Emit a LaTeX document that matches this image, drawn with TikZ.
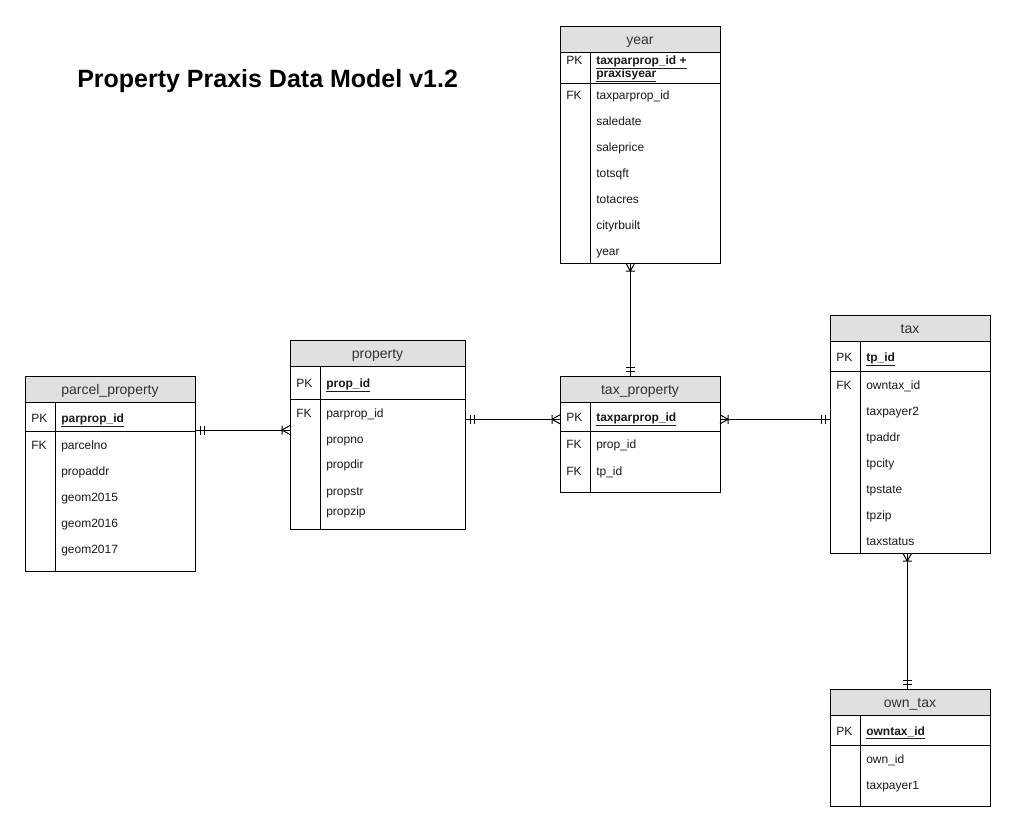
\documentclass[tikz,border=0pt]{standalone}
\usepackage{fontspec}
\setmainfont{Liberation Sans}
\usetikzlibrary{calc}
\definecolor{hdrgray}{HTML}{E0E0E0}
\definecolor{txt}{HTML}{1A1A1A}
\definecolor{htxt}{HTML}{333333}
\tikzset{
  ln/.style={line width=0.75pt, draw=black},
  tbl/.style={ln, fill=white, inner sep=0pt, outer sep=0pt},
  hdr/.style={ln, fill=hdrgray, inner sep=0pt, outer sep=0pt, text=htxt,
    text height=9pt, text depth=1.5pt,
    font=\fontsize{10.5pt}{12pt}\selectfont},
  fld/.style={anchor=base west, inner sep=0pt, text=txt, font=\fontsize{9pt}{11pt}\selectfont},
  pkf/.style={fld, font=\fontsize{9pt}{11pt}\selectfont\bfseries},
  ttl/.style={anchor=base west, inner sep=0pt, text=black, font=\fontsize{18.75pt}{22pt}\selectfont\bfseries},
  pics/mandone/.style={code={\draw[ln] (5,-4.5)--(5,4.5) (9,-4.5)--(9,4.5);}},
  pics/crowfoot/.style={code={\draw[ln] (0,-4.5)--(8,0)--(0,4.5) (8,-4.5)--(8,4.5);}}
}
% name, left, top, right, bottom, title, pk-separator
\newcommand\ertable[7]{%
  \node[tbl, anchor=north west, minimum width={(#4-#2)*0.75pt}, minimum height={(#5-#3)*0.75pt}] (#1) at (#2,#3) {};
  \node[hdr, anchor=north west, minimum width={(#4-#2)*0.75pt}, minimum height={26*0.75pt}] (#1-h) at (#2,#3) {#6};
  \draw[ln] (#2,#7) -- (#4,#7);
  \draw[ln] (#2+30,#3+26) -- (#2+30,#5);
}
\begin{document}
\begin{tikzpicture}[x=0.75pt, y=-0.75pt]
\useasboundingbox[fill=white] (0,0) rectangle (1016,833);

\node[ttl] (title) at (77,87) {Property Praxis Data Model v1.2};

% year
\ertable{year}{560}{26}{720}{263}{year}{83}
\node[fld] (year-k1) at (566,64) {PK};
\node[pkf] (year-p1) at (596,64) {\underline{taxparprop\_id +}};
\node[pkf] (year-p2) at (596,77) {\underline{praxisyear}};
\node[fld] (year-k2) at (566,99) {FK};
\node[fld] (year-f1) at (596,99) {taxparprop\_id};
\node[fld] (year-f2) at (596,125) {saledate};
\node[fld] (year-f3) at (596,151) {saleprice};
\node[fld] (year-f4) at (596,177) {totsqft};
\node[fld] (year-f5) at (596,203) {totacres};
\node[fld] (year-f6) at (596,229) {cityrbuilt};
\node[fld] (year-f7) at (596,255) {year};

% property
\ertable{property}{290}{340}{465}{529}{property}{399}
\node[fld] (prop-k1) at (296,387) {PK};
\node[pkf] (prop-p1) at (326,387) {\underline{prop\_id}};
\node[fld] (prop-k2) at (296,417) {FK};
\node[fld] (prop-f1) at (326,417) {parprop\_id};
\node[fld] (prop-f2) at (326,443) {propno};
\node[fld] (prop-f3) at (326,468) {propdir};
\node[fld] (prop-f4) at (326,495) {propstr};
\node[fld] (prop-f5) at (326,515) {propzip};

% parcel_property
\ertable{parcel}{25}{376}{195}{571}{parcel\_property}{431}
\node[fld] (parc-k1) at (31,422) {PK};
\node[pkf] (parc-p1) at (61,422) {\underline{parprop\_id}};
\node[fld] (parc-k2) at (31,449) {FK};
\node[fld] (parc-f1) at (61,449) {parcelno};
\node[fld] (parc-f2) at (61,475) {propaddr};
\node[fld] (parc-f3) at (61,501) {geom2015};
\node[fld] (parc-f4) at (61,527) {geom2016};
\node[fld] (parc-f5) at (61,553) {geom2017};

% tax_property
\ertable{taxprop}{560}{376}{720}{492}{tax\_property}{431}
\node[fld] (tp-k1) at (566,421) {PK};
\node[pkf] (tp-p1) at (596,421) {\underline{taxparprop\_id}};
\node[fld] (tp-k2) at (566,448) {FK};
\node[fld] (tp-f1) at (596,448) {prop\_id};
\node[fld] (tp-k3) at (566,475) {FK};
\node[fld] (tp-f2) at (596,475) {tp\_id};

% tax
\ertable{tax}{830}{315}{990}{553}{tax}{371}
\node[fld] (tax-k1) at (836,361) {PK};
\node[pkf] (tax-p1) at (866,361) {\underline{tp\_id}};
\node[fld] (tax-k2) at (836,389) {FK};
\node[fld] (tax-f1) at (866,389) {owntax\_id};
\node[fld] (tax-f2) at (866,415) {taxpayer2};
\node[fld] (tax-f3) at (866,441) {tpaddr};
\node[fld] (tax-f4) at (866,467) {tpcity};
\node[fld] (tax-f5) at (866,493) {tpstate};
\node[fld] (tax-f6) at (866,519) {tpzip};
\node[fld] (tax-f7) at (866,545) {taxstatus};

% own_tax
\ertable{owntax}{830}{689}{990}{806}{own\_tax}{745}
\node[fld] (ot-k1) at (836,735) {PK};
\node[pkf] (ot-p1) at (866,735) {\underline{owntax\_id}};
\node[fld] (ot-f1) at (866,763) {own\_id};
\node[fld] (ot-f2) at (866,789) {taxpayer1};

% connectors
\coordinate (c1s) at ($(parcel.north east)+(0,54)$);
\coordinate (c1e) at ($(property.north west)+(0,90)$);
\draw[ln] (c1s) -- (c1e);
\pic[rotate=0] at (c1s) {mandone};
\pic[rotate=180] at (c1e) {crowfoot};

\coordinate (c2s) at ($(property.north east)+(0,79.3)$);
\coordinate (c2e) at ($(taxprop.north west)+(0,43.3)$);
\draw[ln] (c2s) -- (c2e);
\pic[rotate=0] at (c2s) {mandone};
\pic[rotate=180] at (c2e) {crowfoot};

\coordinate (c3s) at ($(taxprop.north east)+(0,43.3)$);
\coordinate (c3e) at ($(tax.north west)+(0,104.3)$);
\draw[ln] (c3s) -- (c3e);
\pic[rotate=0] at (c3s) {crowfoot};
\pic[rotate=180] at (c3e) {mandone};

\coordinate (c4s) at ($(year.south west)+(70.3,0)$);
\coordinate (c4e) at ($(taxprop.north west)+(70.3,0)$);
\draw[ln] (c4s) -- (c4e);
\pic[rotate=-90] at (c4s) {crowfoot};
\pic[rotate=90] at (c4e) {mandone};

\coordinate (c5s) at ($(tax.south west)+(77.3,0)$);
\coordinate (c5e) at ($(owntax.north west)+(77.3,0)$);
\draw[ln] (c5s) -- (c5e);
\pic[rotate=-90] at (c5s) {crowfoot};
\pic[rotate=90] at (c5e) {mandone};
\end{tikzpicture}
\end{document}
